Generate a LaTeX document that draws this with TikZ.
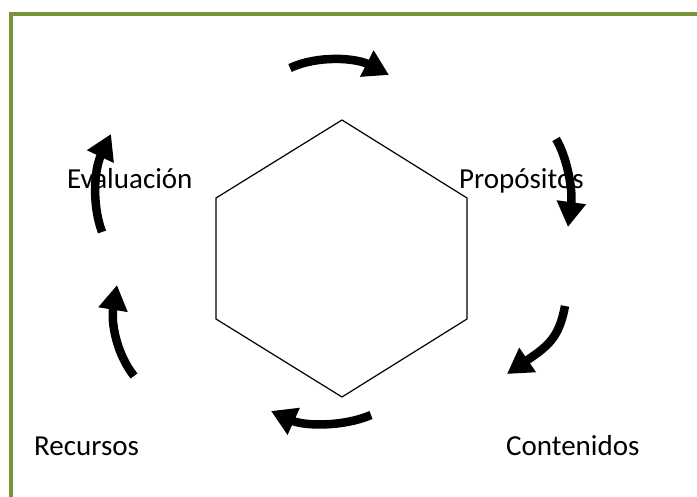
\documentclass[tikz,border=0pt]{standalone}
\usepackage{fontspec}
\setmainfont{Carlito}
\usetikzlibrary{arrows.meta}
\definecolor{frameolive}{RGB}{119,147,60}
\begin{document}
\begin{tikzpicture}[x=1pt,y=-1pt,
  lbl/.style={anchor=base west, inner sep=0pt, font=\fontsize{29}{35}\selectfont},
  cyc/.style={line width=8.5pt, -{Triangle[length=25pt,width=28pt]}},
  hex/.style={draw, line width=1.2pt, line join=miter}]
\useasboundingbox (0,0) rectangle (697,497);
\fill[white] (0,0) rectangle (697,497);
\draw[frameolive, line width=4.5pt] (11,497) -- (11,14) -- (697,14);
% hexagon
\coordinate (h1) at (342,120);
\coordinate (h2) at (467,198);
\coordinate (h3) at (467,319);
\coordinate (h4) at (342,397);
\coordinate (h5) at (216,319);
\coordinate (h6) at (216,198);
\draw[hex] (h1) -- (h2) -- (h3) -- (h4) -- (h5) -- (h6) -- cycle;
% labels
\node[lbl] (eva) at (67,189) {Evaluación};
\node[lbl] (pro) at (459,189) {Propósitos};
\node[lbl] (rec) at (34,455) {Recursos};
\node[lbl] (con) at (506,455) {Contenidos};
% arrows
\coordinate (a1s) at (290,68);  \coordinate (a1e) at (389,75);
\coordinate (a2s) at (556,139); \coordinate (a2e) at (568,227);
\coordinate (a3s) at (565,306); \coordinate (a3e) at (507,374);
\coordinate (a4s) at (371,415); \coordinate (a4e) at (271,411);
\coordinate (a5s) at (134,376); \coordinate (a5e) at (117,285);
\coordinate (a6s) at (102,232); \coordinate (a6e) at (111,134);
\draw[cyc] (a1s) .. controls (318,55) and (356,58) .. (a1e);
\draw[cyc] (a2s) .. controls (567,157) and (573,190) .. (a2e);
\draw[cyc] (a3s) .. controls (559,338) and (548,346) .. (a3e);
\draw[cyc] (a4s) .. controls (343,427) and (304,426) .. (a4e);
\draw[cyc] (a5s) .. controls (116,353) and (111,322) .. (a5e);
\draw[cyc] (a6s) .. controls (92,205) and (94,170) .. (a6e);
\end{tikzpicture}
\end{document}
